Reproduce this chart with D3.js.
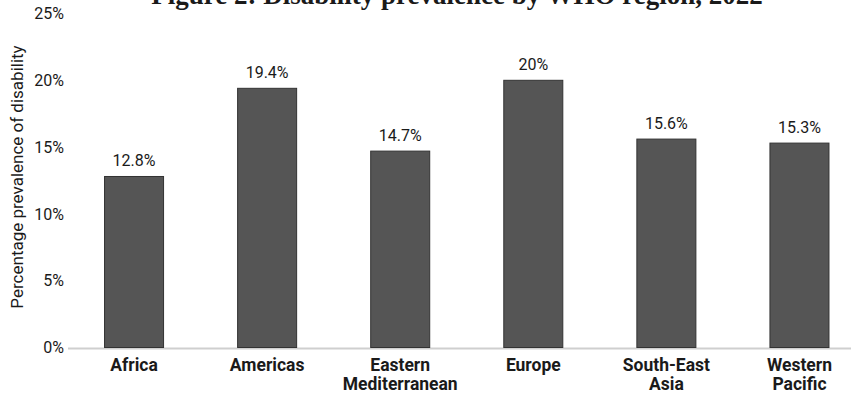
<!DOCTYPE html>
<html>
<head>
<meta charset="utf-8">
<script src="https://cdn.jsdelivr.net/npm/d3@7"></script>
<style>
  html, body { margin: 0; padding: 0; background: #fff; }
  svg { display: block; }
  text { font-family: Roboto, "Noto Sans", sans-serif; fill: #1a1a1a; }
</style>
</head>
<body>
<svg id="chart" width="851" height="393"></svg>
<script>
// Disability prevalence by WHO region
const regions = [["Africa"], ["Americas"], ["Eastern", "Mediterranean"], ["Europe"], ["South-East", "Asia"], ["Western", "Pacific"]];
const prevalence = [12.8, 19.4, 14.7, 20, 15.6, 15.3];
const yTicks = [0, 5, 10, 15, 20, 25];
const titleText = "Figure 2: Disability prevalence by WHO region, 2022";
const yTitle = "Percentage prevalence of disability";

const svg = d3.select("#chart");
const W = 851, H = 393;

const keys = regions.map(r => r.join(" "));
const x = d3.scaleBand().domain(keys).range([67.5, 866]).paddingInner(0.549).paddingOuter(0.2745);
const y = d3.scaleLinear().domain([0, 25]).range([347.5, 13.5]);

// Figure title (runs off the top edge of the frame)
svg.append("text")
  .attr("x", 457).attr("y", 4)
  .attr("text-anchor", "middle")
  .style("font-family", "'Liberation Serif', 'DejaVu Serif', serif")
  .style("font-weight", "bold")
  .style("font-size", "27px")
  .text(titleText);

// Y axis labels only (no ticks or domain line)
const yAxis = d3.axisLeft(y).tickValues(yTicks).tickFormat(d => d + "%").tickSize(0).tickPadding(0);
const gy = svg.append("g").attr("transform", "translate(64,0)").call(yAxis);
gy.select(".domain").remove();
gy.selectAll("text")
  .style("font-family", "Roboto, sans-serif")
  .style("font-size", "16px")
  .attr("fill", "#222");

// Y axis title
svg.append("text")
  .attr("transform", "translate(23,177) rotate(-90)")
  .attr("text-anchor", "middle")
  .style("font-size", "17px")
  .attr("fill", "#222")
  .text(yTitle);

// Baseline
svg.append("line")
  .attr("x1", 68).attr("x2", W)
  .attr("y1", y(0) + 1).attr("y2", y(0) + 1)
  .attr("stroke", "#cfcfcf").attr("stroke-width", 2);

// Bars
svg.append("g").selectAll("rect")
  .data(prevalence)
  .join("rect")
  .attr("x", (d, i) => x(keys[i]) + 0.5)
  .attr("y", d => y(d))
  .attr("width", x.bandwidth() - 1)
  .attr("height", d => y(0) - y(d))
  .attr("fill", "#555555")
  .attr("stroke", "#333333")
  .attr("stroke-width", 1);

// Value labels
svg.append("g").selectAll("text")
  .data(prevalence)
  .join("text")
  .attr("x", (d, i) => x(keys[i]) + x.bandwidth() / 2)
  .attr("y", d => y(d) - 10)
  .attr("text-anchor", "middle")
  .style("font-size", "16px")
  .attr("fill", "#222")
  .text(d => d + "%");

// Category labels
const cat = svg.append("g").selectAll("text")
  .data(regions)
  .join("text")
  .attr("x", (d, i) => x(keys[i]) + x.bandwidth() / 2)
  .attr("y", 371)
  .attr("text-anchor", "middle")
  .style("font-size", "17.5px")
  .style("font-weight", "bold")
  .attr("fill", "#111");
cat.selectAll("tspan")
  .data(d => d)
  .join("tspan")
  .attr("x", function() { return d3.select(this.parentNode).attr("x"); })
  .attr("dy", (d, i) => i === 0 ? 0 : 19)
  .text(d => d);
</script>
</body>
</html>
